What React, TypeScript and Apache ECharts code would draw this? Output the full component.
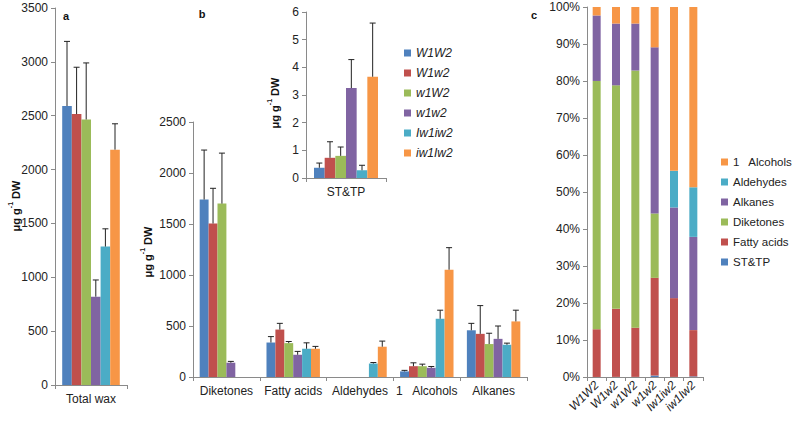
import React, { useEffect, useRef } from "react";
import * as echarts from "echarts";

const genotypes = ["W1W2", "W1w2", "w1W2", "w1w2", "Iw1iw2", "iw1Iw2"];
const colors = ["#4F81BD", "#C0504D", "#9BBB59", "#8064A2", "#4BACC6", "#F79646"];

// Panel a: total wax
const totalCategory = ["Total wax"];
const totalWax = [2590, 2515, 2465, 820, 1285, 2185];
const totalWaxErr = [600, 435, 525, 155, 165, 240];

// Panel b: wax classes
const classes = ["Diketones", "Fatty acids", "Aldehydes", "1   Alcohols", "Alkanes"];
const classValues = [
  [1740, 338, 0, 55, 458],
  [1505, 465, 0, 106, 423],
  [1700, 332, 0, 106, 323],
  [140, 218, 0, 90, 374],
  [0, 277, 132, 571, 316],
  [0, 277, 297, 1052, 545],
];
const classErr = [
  [485, 58, 0, 10, 68],
  [345, 61, 0, 33, 277],
  [495, 16, 0, 20, 106],
  [13, 33, 0, 13, 126],
  [0, 58, 10, 84, 16],
  [0, 23, 55, 216, 110],
];

// Inset: ST&TP
const insetCategory = ["ST&TP"];
const sttp = [0.37, 0.73, 0.8, 3.25, 0.28, 3.66];
const sttpErr = [0.17, 0.58, 0.32, 1.03, 0.18, 1.94];

// Panel c: composition (%) per genotype, bottom to top
const pctSTTP = [0.01, 0.03, 0.03, 0.4, 0.02, 0.17];
const pctFatty = [12.9, 18.4, 13.3, 26.4, 21.3, 12.5];
const pctDiketones = [67.1, 60.4, 69.5, 17.4, 0, 0];
const pctAlkanes = [17.7, 16.7, 12.7, 44.9, 24.5, 25.2];
const pctAldehydes = [0, 0, 0, 0, 9.9, 13.4];
const pctAlcohols = [2.29, 4.47, 4.47, 10.9, 44.28, 48.73];
const compNames = ["ST&TP", "Fatty acids", "Diketones", "Alkanes", "Aldehydes", "1   Alcohols"];
const compData = [pctSTTP, pctFatty, pctDiketones, pctAlkanes, pctAldehydes, pctAlcohols];

const FONT = "Liberation Sans, Arial, sans-serif";
const AXIS_COLOR = "#8a8a8a";
const LABEL_COLOR = "#222";

function yAxisCfg(gridIndex: number, max: number, interval: number, suffix = "") {
  return {
    type: "value",
    gridIndex,
    min: 0,
    max,
    interval,
    axisLine: { show: true, lineStyle: { color: AXIS_COLOR } },
    axisTick: { show: true, length: 4, lineStyle: { color: AXIS_COLOR } },
    splitLine: { show: false },
    axisLabel: {
      color: LABEL_COLOR,
      fontSize: 12,
      fontFamily: FONT,
      margin: 7,
      formatter: (v: number) => String(v) + suffix,
    },
  };
}

function xAxisCfg(gridIndex: number, data: string[], labelExtra: any = {}) {
  return {
    type: "category",
    gridIndex,
    data,
    axisLine: { show: true, lineStyle: { color: AXIS_COLOR } },
    axisTick: { show: true, length: 4, lineStyle: { color: AXIS_COLOR } },
    axisLabel: { color: LABEL_COLOR, fontSize: 12, fontFamily: FONT, margin: 8, interval: 0, ...labelExtra },
  };
}

function errorSeries(axisIndex: number, data: number[][]) {
  return {
    type: "custom",
    xAxisIndex: axisIndex,
    yAxisIndex: axisIndex,
    z: 10,
    silent: true,
    encode: { x: 0, y: 2 },
    data,
    renderItem: (params: any, api: any) => {
      const cat = api.value(0);
      const si = api.value(1);
      const v = api.value(2);
      const e = api.value(3);
      if (!(e > 0)) return null;
      const band = api.size([1, 0])[0];
      const bw = (band * 0.8) / 6;
      const c0 = api.coord([cat, v]);
      const c1 = api.coord([cat, v + e]);
      const x = c0[0] - band * 0.4 + bw * (si + 0.5);
      const st = { stroke: "#222", lineWidth: 1 };
      return {
        type: "group",
        children: [
          { type: "line", shape: { x1: x, y1: c0[1], x2: x, y2: c1[1] }, style: st },
          { type: "line", shape: { x1: x - 3, y1: c1[1], x2: x + 3, y2: c1[1] }, style: st },
        ],
      };
    },
  };
}

function titleText(x: number, y: number) {
  return {
    type: "text",
    x,
    y,
    rotation: Math.PI / 2,
    style: {
      text: "{b|μg g}{s|-1}{b| DW}",
      align: "center",
      verticalAlign: "middle",
      rich: {
        b: { fontSize: 11, fontWeight: "bold", fontFamily: FONT, fill: "#111", lineHeight: 14, verticalAlign: "bottom" },
        s: { fontSize: 7, fontWeight: "bold", fontFamily: FONT, fill: "#111", lineHeight: 14, verticalAlign: "top", padding: [0, 0, 5, 0] },
      },
    },
  };
}

function panelLabel(text: string, x: number, y: number) {
  return {
    type: "text",
    x,
    y,
    style: { text, fontSize: 11, fontWeight: "bold", fontFamily: FONT, fill: "#111", align: "center", verticalAlign: "middle" },
  };
}

export default function App() {
  const ref = useRef<HTMLDivElement>(null);
  useEffect(() => {
    if (!ref.current) return;
    const chart = echarts.init(ref.current, null, { renderer: "svg" });

    const series: any[] = [];
    genotypes.forEach((g, i) => {
      series.push({
        type: "bar", name: g, xAxisIndex: 0, yAxisIndex: 0, data: [totalWax[i]],
        itemStyle: { color: colors[i] }, barGap: "0%", barCategoryGap: "20%",
      });
      series.push({
        type: "bar", name: g, xAxisIndex: 1, yAxisIndex: 1, data: classValues[i],
        itemStyle: { color: colors[i] }, barGap: "0%", barCategoryGap: "20%",
      });
      series.push({
        type: "bar", name: g, xAxisIndex: 2, yAxisIndex: 2, data: [sttp[i]],
        itemStyle: { color: colors[i] }, barGap: "0%", barCategoryGap: "20%",
      });
    });
    const errA: number[][] = genotypes.map((_, i) => [0, i, totalWax[i], totalWaxErr[i]]);
    const errB: number[][] = [];
    genotypes.forEach((_, i) => classes.forEach((_, c) => errB.push([c, i, classValues[i][c], classErr[i][c]])));
    const errI: number[][] = genotypes.map((_, i) => [0, i, sttp[i], sttpErr[i]]);
    series.push(errorSeries(0, errA));
    series.push(errorSeries(1, errB));
    series.push(errorSeries(2, errI));

    compNames.forEach((n, k) => {
      series.push({
        type: "bar", name: n, xAxisIndex: 3, yAxisIndex: 3, stack: "comp", data: compData[k],
        itemStyle: { color: colors[k] }, barWidth: 8,
      });
    });

    chart.setOption({
      animation: false,
      textStyle: { fontFamily: FONT },
      grid: [
        { left: 55, right: 794 - 127, top: 8, bottom: 421 - 385 },
        { left: 193, right: 794 - 527, top: 122, bottom: 421 - 377 },
        { left: 306, right: 794 - 386, top: 12, bottom: 421 - 178 },
        { left: 587, right: 794 - 703, top: 7, bottom: 421 - 377 },
      ],
      xAxis: [
        xAxisCfg(0, totalCategory),
        xAxisCfg(1, classes),
        xAxisCfg(2, insetCategory),
        xAxisCfg(3, genotypes, { rotate: 45, fontStyle: "italic", margin: 6 }),
      ],
      yAxis: [
        yAxisCfg(0, 3500, 500),
        yAxisCfg(1, 2500, 500),
        yAxisCfg(2, 6, 1),
        yAxisCfg(3, 100, 10, "%"),
      ],
      legend: [
        {
          data: genotypes,
          orient: "vertical",
          left: 404,
          top: 46,
          padding: 0,
          itemWidth: 7,
          itemHeight: 7,
          itemGap: 6,
          icon: "rect",
          selectedMode: false,
          textStyle: { fontSize: 12, fontStyle: "italic", fontFamily: FONT, color: LABEL_COLOR, lineHeight: 14 },
        },
        {
          data: compNames.slice().reverse(),
          orient: "vertical",
          left: 721,
          top: 155,
          padding: 0,
          itemWidth: 7,
          itemHeight: 7,
          itemGap: 6,
          icon: "rect",
          selectedMode: false,
          textStyle: { fontSize: 11.5, fontFamily: FONT, color: LABEL_COLOR, lineHeight: 14 },
        },
      ],
      graphic: [
        titleText(14, 206),
        titleText(146, 252),
        titleText(273, 103),
        panelLabel("a", 66, 16),
        panelLabel("b", 202, 14),
        panelLabel("c", 534, 15),
      ],
      series,
    });
    return () => chart.dispose();
  }, []);
  return <div ref={ref} style={{ position: "absolute", left: 0, top: 0, width: 794, height: 421 }} />;
}
